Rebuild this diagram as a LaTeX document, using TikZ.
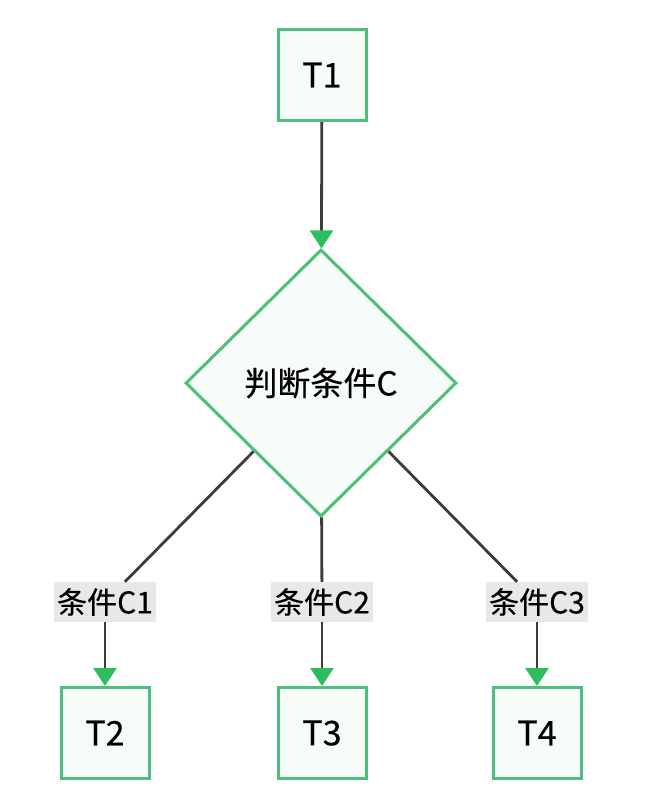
\documentclass[tikz,border=0pt]{standalone}
\usepackage{fontspec}
\setmainfont{Noto Sans CJK SC}[FakeBold=0.4]
\usetikzlibrary{shapes.geometric,arrows.meta}
\definecolor{boxgreen}{RGB}{76,192,122}
\definecolor{tipgreen}{RGB}{44,190,92}
\definecolor{boxfill}{RGB}{247,252,249}
\definecolor{linegray}{RGB}{60,60,60}
\definecolor{labelgray}{RGB}{232,232,232}
\tikzset{
  task/.style={draw=boxgreen, line width=3pt, fill=boxfill, minimum width=88pt, minimum height=91pt, font=\fontsize{34}{40}\selectfont},
  decision/.style={diamond, draw=boxgreen, line width=3pt, fill=boxfill, minimum width=271pt, minimum height=267pt, inner sep=0pt, font=\fontsize{33}{40}\selectfont},
  cond/.style={fill=labelgray, inner sep=3pt, minimum height=40pt, font=\fontsize{30}{36}\selectfont},
  link/.style={draw=linegray, line width=2.8pt},
  flow/.style={link, -{Triangle[length=18pt,width=23pt,color=tipgreen]}}
}
\begin{document}
\begin{tikzpicture}[x=1pt,y=-1pt]
\useasboundingbox (0,0) rectangle (648,808);
% tasks and the decision
\node[task] (t1) at (322,75) {T1};
\node[decision] (dec) at (321,383) {判断条件C};
\node[task] (t2) at (105,733) {T2};
\node[task] (t3) at (322,733) {T3};
\node[task] (t4) at (537,733) {T4};
% branch labels
\node[cond] (c1) at (105,602) {条件C1};
\node[cond] (c2) at (322,602) {条件C2};
\node[cond] (c3) at (537,602) {条件C3};
% connectors
\draw[flow] (t1) -- (dec);
\draw[link] (dec) -- (c1);
\draw[link] (dec) -- (c2);
\draw[link] (dec) -- (c3);
\draw[flow] (c1) -- (t2);
\draw[flow] (c2) -- (t3);
\draw[flow] (c3) -- (t4);
\end{tikzpicture}
\end{document}
